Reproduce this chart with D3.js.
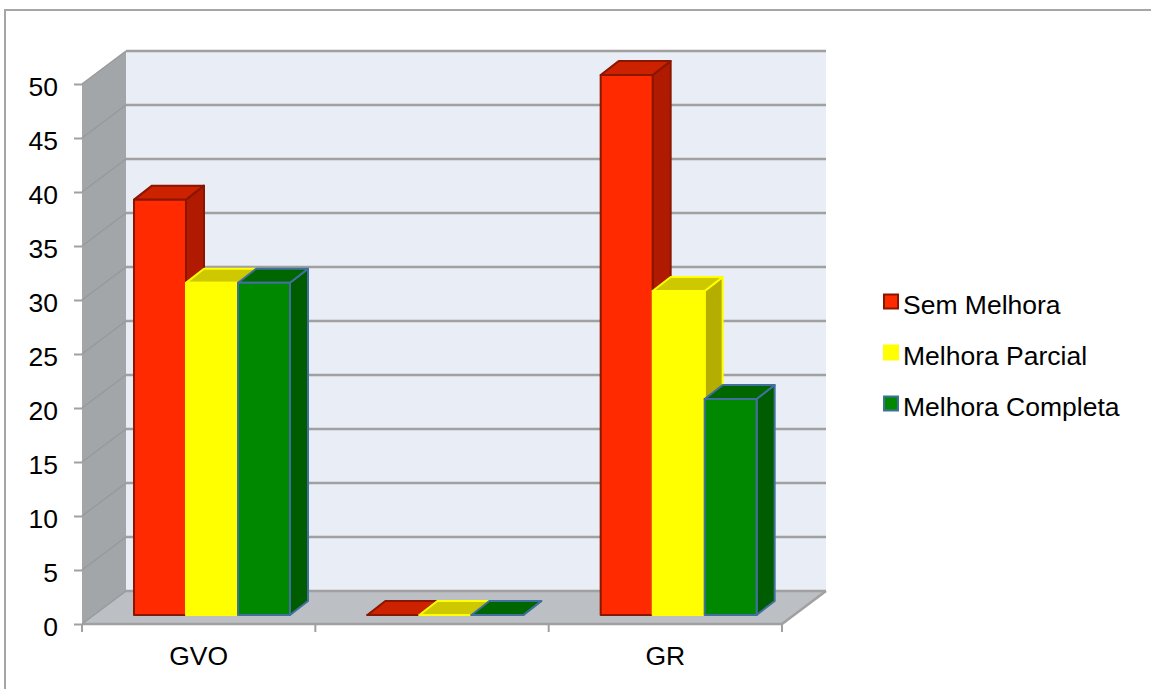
<!DOCTYPE html>
<html>
<head>
<meta charset="utf-8">
<script src="https://cdn.jsdelivr.net/npm/d3@7/dist/d3.min.js"></script>
<style>
html,body{margin:0;padding:0;background:#fff;}
svg{display:block;}
text{font-family:"Liberation Sans",Arial,sans-serif;fill:#000;}
</style>
</head>
<body>
<script>
// Outcome percentages per group
const categories = ["GVO", " ", "GR"];
const seriesNames = ["Sem Melhora", "Melhora Parcial", "Melhora Completa"];
const semMelhora = [38.46, 0, 50];
const melhoraParcial = [30.77, 0, 30];
const melhoraCompleta = [30.77, 0, 20];
const seriesValues = [semMelhora, melhoraParcial, melhoraCompleta];
const yTicks = [0, 5, 10, 15, 20, 25, 30, 35, 40, 45, 50];

// Face colours per series: front, top, side, edge
const frontColors = ["#ff2a00", "#ffff00", "#008800"];
const topColors = ["#cc2200", "#cdc800", "#006600"];
const sideColors = ["#b01a00", "#b5ae00", "#005c00"];
const edgeColors = ["#8a1500", "#ffff00", "#41709f"];

const width = 1151, height = 689;
const gridColor = "#a0a0a0";
const labelSize = "26.5px";

const svg = d3.select("body").append("svg")
  .attr("width", width).attr("height", height);

// Chart frame; its right and bottom edges run past the page
svg.append("rect").attr("x", 5).attr("y", 10)
  .attr("width", width + 20).attr("height", height + 20)
  .attr("fill", "#fff").attr("stroke", "#a6a6a6").attr("stroke-width", 2);

const x0 = d3.scaleBand().domain(categories).range([82, 782]);
const x1 = d3.scaleBand().domain(seriesNames).range([52, 208]);
const y = d3.scaleLinear().domain([0, 50]).range([624, 84]);

// Depth of the chart box and of the bars, as screen offsets
const wall = {dx: 44, dy: -33};
const bar = {dx: 18, dy: -14};
const barLift = 9;

const poly = pts => pts.map(p => p.join(",")).join(" ");
const [xL, xR] = x0.range();
const y0 = y(0), yTop = y(50);

// Back wall, left wall and floor
const box = svg.append("g");
box.append("polygon")
  .attr("points", poly([[xL + wall.dx, yTop + wall.dy], [xR + wall.dx, yTop + wall.dy], [xR + wall.dx, y0 + wall.dy], [xL + wall.dx, y0 + wall.dy]]))
  .attr("fill", "#e9edf6");
box.append("polygon")
  .attr("points", poly([[xL, yTop], [xL + wall.dx, yTop + wall.dy], [xL + wall.dx, y0 + wall.dy], [xL, y0]]))
  .attr("fill", "#a3a6a9");
box.append("polygon")
  .attr("points", poly([[xL, y0], [xL + wall.dx, y0 + wall.dy], [xR + wall.dx, y0 + wall.dy], [xR, y0]]))
  .attr("fill", "#bcbfc4");

// Gridlines run across the back wall and down the left wall
box.selectAll("line.back").data(yTicks).join("line").attr("class", "back")
  .attr("x1", xL + wall.dx).attr("x2", xR + wall.dx)
  .attr("y1", d => y(d) + wall.dy).attr("y2", d => y(d) + wall.dy)
  .attr("stroke", gridColor).attr("stroke-width", 2.5);
box.selectAll("line.side").data(yTicks).join("line").attr("class", "side")
  .attr("x1", xL).attr("x2", xL + wall.dx)
  .attr("y1", d => y(d)).attr("y2", d => y(d) + wall.dy)
  .attr("stroke", "#979a9c").attr("stroke-width", 1.5);
box.append("line").attr("x1", xR).attr("y1", y0).attr("x2", xR + wall.dx).attr("y2", y0 + wall.dy)
  .attr("stroke", gridColor).attr("stroke-width", 2.5);

// Axes
const yAxis = svg.append("g").attr("transform", `translate(${xL},0)`)
  .call(d3.axisLeft(y).tickValues(yTicks).tickSize(8).tickPadding(16));
const xAxis = svg.append("g").attr("transform", `translate(0,${y0})`)
  .call(d3.axisBottom(x0).tickSize(0).tickPadding(22));
[yAxis, xAxis].forEach(a => {
  a.selectAll("text").style("font-family", '"Liberation Sans",Arial,sans-serif').style("font-size", labelSize).attr("fill", "#000");
  a.selectAll("line").attr("stroke", gridColor).attr("stroke-width", 2);
});
yAxis.selectAll("text").attr("dy", "0.42em");
yAxis.select(".domain").remove();
xAxis.select(".domain").attr("stroke", gridColor).attr("stroke-width", 2.5).attr("d", `M${xL},0H${xR}`);
xAxis.selectAll("line.boundary")
  .data(categories.map(c => x0(c)).concat([xR])).join("line").attr("class", "boundary")
  .attr("x1", d => d).attr("x2", d => d).attr("y1", 0).attr("y2", 8)
  .attr("stroke", gridColor).attr("stroke-width", 2);

// Bars, painted back to front within each group
const barBase = y0 - barLift;
const bars = svg.append("g");
categories.forEach((cat, ci) => {
  seriesNames.forEach((name, si) => {
    const left = x0(cat) + x1(name);
    const right = left + x1.bandwidth();
    const top = y(seriesValues[si][ci]) - barLift;
    const g = bars.append("g")
      .attr("stroke", edgeColors[si]).attr("stroke-width", 2).attr("stroke-linejoin", "round");
    g.append("polygon")
      .attr("points", poly([[right, top], [right + bar.dx, top + bar.dy], [right + bar.dx, barBase + bar.dy], [right, barBase]]))
      .attr("fill", sideColors[si]);
    g.append("polygon")
      .attr("points", poly([[left, top], [left + bar.dx, top + bar.dy], [right + bar.dx, top + bar.dy], [right, top]]))
      .attr("fill", topColors[si]);
    g.append("polygon")
      .attr("points", poly([[left, top], [right, top], [right, barBase], [left, barBase]]))
      .attr("fill", frontColors[si]);
  });
});

// Legend
const legendY = d3.scalePoint().domain(seriesNames).range([294, 396]);
const legend = svg.append("g");
seriesNames.forEach((name, i) => {
  legend.append("rect")
    .attr("x", 884).attr("y", legendY(name) + 0.5)
    .attr("width", 14).attr("height", 14)
    .attr("fill", frontColors[i]).attr("stroke", edgeColors[i]).attr("stroke-width", 2);
  legend.append("text")
    .attr("x", 903).attr("y", legendY(name) + 19.5)
    .style("font-size", labelSize).text(name);
});
</script>
</body>
</html>
